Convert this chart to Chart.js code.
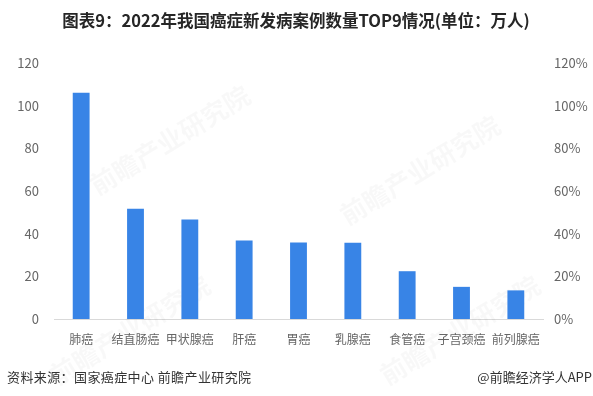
<!DOCTYPE html>
<html lang="zh-CN">
<head>
<meta charset="utf-8">
<title>2022年我国癌症新发病案例数量TOP9</title>
<script src="https://cdn.jsdelivr.net/npm/chart.js@4.4.1/dist/chart.umd.min.js"></script>
<style>
    html, body { margin: 0; padding: 0; background: #ffffff; }
    #wrap { position: relative; width: 593px; height: 396px; }
</style>
</head>
<body>
<div id="wrap"><canvas id="cancerChart" width="593" height="396"></canvas></div>
<script>
// 2022 new cancer cases in China, top 9 (unit: 10k people)
const cancerTypes = ['肺癌', '结直肠癌', '甲状腺癌', '肝癌', '胃癌', '乳腺癌', '食管癌', '子宫颈癌', '前列腺癌'];
const newCases = [106.06, 51.71, 46.61, 36.77, 35.87, 35.72, 22.40, 15.07, 13.42];
const leftTicks = [0, 20, 40, 60, 80, 100, 120];
const rightTicks = ['0%', '20%', '40%', '60%', '80%', '100%', '120%'];

const titleText = '图表9：2022年我国癌症新发病案例数量TOP9情况(单位：万人)';
const sourceText = '资料来源：国家癌症中心 前瞻产业研究院';
const brandText = '@前瞻经济学人APP';
const watermarkText = '前瞻产业研究院';

const cjkFont = '"Noto Sans CJK SC", "Noto Sans", sans-serif';
const tickColor = '#666666';

// Faint diagonal watermark behind the bars
const watermarkPlugin = {
    id: 'watermark',
    beforeDatasetsDraw(chart) {
        const ctx = chart.ctx;
        const spots = [[170, 140], [420, 170], [130, 330], [460, 330]];
        ctx.save();
        ctx.fillStyle = 'rgba(0, 0, 0, 0.028)';
        ctx.font = 'bold 26px ' + cjkFont;
        ctx.textAlign = 'center';
        ctx.textBaseline = 'middle';
        spots.forEach(([x, y]) => {
            ctx.save();
            ctx.translate(x, y);
            ctx.rotate(-0.55);
            ctx.fillText(watermarkText, 0, 0);
            ctx.restore();
        });
        ctx.restore();
    }
};

// Title on top, source line and brand at the bottom
const textPlugin = {
    id: 'headerFooter',
    afterDraw(chart) {
        const ctx = chart.ctx;
        ctx.save();
        ctx.fillStyle = '#262626';
        ctx.font = 'bold 16.5px ' + cjkFont;
        ctx.textAlign = 'center';
        ctx.textBaseline = 'middle';
        ctx.fillText(titleText, 296, 21);

        ctx.fillStyle = '#333333';
        ctx.font = '13px ' + cjkFont;
        ctx.letterSpacing = '0.4px';
        ctx.textAlign = 'left';
        ctx.fillText(sourceText, 7, 377);
        ctx.letterSpacing = '0px';
        ctx.textAlign = 'right';
        ctx.fillText(brandText, 592, 377);
        ctx.restore();
    }
};

new Chart(document.getElementById('cancerChart').getContext('2d'), {
    type: 'bar',
    data: {
        labels: cancerTypes,
        datasets: [{
            label: '新发病例数',
            data: newCases,
            backgroundColor: '#3884e6',
            borderWidth: 0,
            categoryPercentage: 1,
            barPercentage: 0.31
        }]
    },
    options: {
        responsive: false,
        animation: false,
        layout: {
            padding: { top: 63, bottom: 47, left: 0, right: 0 }
        },
        plugins: {
            legend: { display: false },
            title: { display: false },
            tooltip: { enabled: false }
        },
        scales: {
            x: {
                grid: { display: false, drawTicks: false },
                border: { display: true, color: '#d9d9d9', width: 1 },
                ticks: {
                    color: tickColor,
                    font: { family: cjkFont, size: 12 },
                    padding: 13,
                    maxRotation: 0,
                    autoSkip: false
                },
                afterFit(scale) { scale.height = 30; }
            },
            y: {
                position: 'left',
                min: 0,
                max: 120,
                afterBuildTicks(scale) {
                    scale.ticks = leftTicks.map(v => ({ value: v }));
                },
                grid: { display: false, drawTicks: false },
                border: { display: false },
                ticks: {
                    color: tickColor,
                    font: { family: cjkFont, size: 13 },
                    padding: 15
                },
                afterFit(scale) { scale.width = 54; }
            },
            y1: {
                position: 'right',
                min: 0,
                max: 120,
                afterBuildTicks(scale) {
                    scale.ticks = leftTicks.map(v => ({ value: v }));
                },
                grid: { display: false, drawTicks: false },
                border: { display: false },
                ticks: {
                    color: tickColor,
                    font: { family: cjkFont, size: 13 },
                    padding: 11,
                    callback: (value, index) => rightTicks[index]
                },
                afterFit(scale) { scale.width = 50; }
            }
        }
    },
    plugins: [watermarkPlugin, textPlugin]
});
</script>
</body>
</html>
